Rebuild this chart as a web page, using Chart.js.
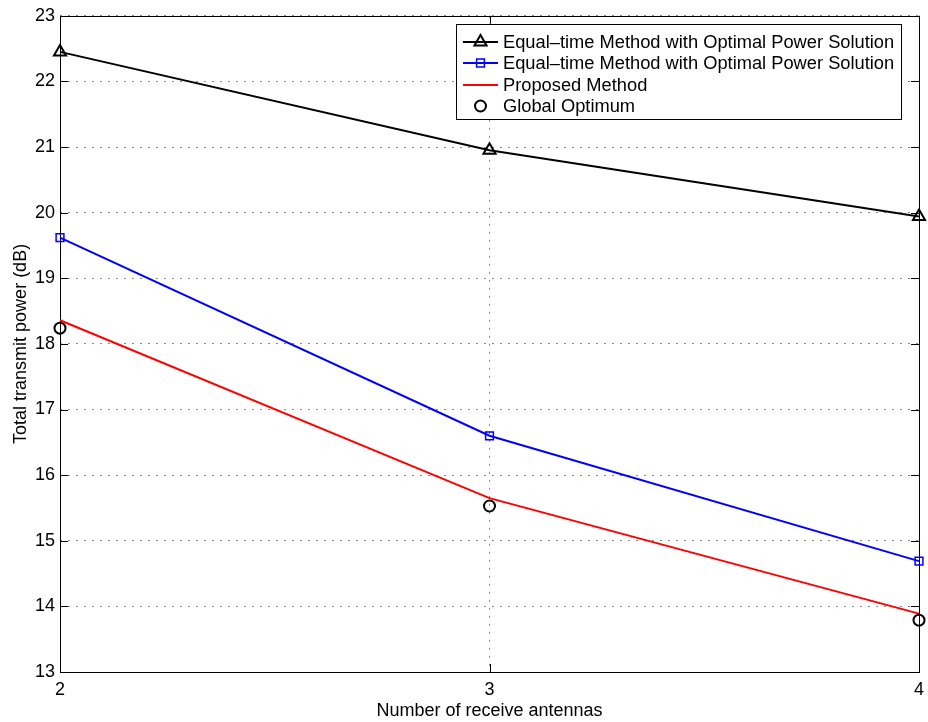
<!DOCTYPE html>
<html>
<head>
<meta charset="utf-8">
<script src="https://cdn.jsdelivr.net/npm/chart.js@4/dist/chart.umd.min.js"></script>
<style>
  html, body { margin: 0; padding: 0; background: #fff; }
</style>
</head>
<body>
<canvas id="chart" width="928" height="722"></canvas>
<script>
// --- data ---
const antennas = [2, 3, 4];
const equalTimeA = [22.45, 20.95, 19.94];
const equalTimeB = [19.62, 16.60, 14.69];
const proposed = [18.36, 15.65, 13.89];
const globalOpt = [18.24, 15.53, 13.79];
const yTicks = [13, 14, 15, 16, 17, 18, 19, 20, 21, 22, 23];
const legendNames = [
    'Equal\u2013time Method with Optimal Power Solution',
    'Equal\u2013time Method with Optimal Power Solution',
    'Proposed Method',
    'Global Optimum'
];

function pts(ys) {
    return antennas.map((x, i) => ({x: x, y: ys[i]}));
}

const FONT = "'Liberation Sans', Arial, Helvetica, sans-serif";

// matlab-ish box: border on all sides, inward ticks, boxed legend
const matlabBox = {
    id: 'matlabBox',
    beforeDatasetsDraw(chart) {
        const ctx = chart.ctx;
        const a = chart.chartArea;
        const xs = chart.scales.x, ys = chart.scales.y;
        const tl = 8;
        ctx.save();
        ctx.strokeStyle = '#000';
        ctx.lineWidth = 1;
        ctx.strokeRect(Math.round(a.left) + 0.5, Math.round(a.top) + 0.5,
            Math.round(a.right - a.left), Math.round(a.bottom - a.top));
        ctx.beginPath();
        yTicks.forEach(v => {
            const py = Math.round(ys.getPixelForValue(v)) + 0.5;
            ctx.moveTo(a.left, py); ctx.lineTo(a.left + tl, py);
            ctx.moveTo(a.right, py); ctx.lineTo(a.right - tl, py);
        });
        antennas.forEach(v => {
            const px = Math.round(xs.getPixelForValue(v)) + 0.5;
            ctx.moveTo(px, a.bottom); ctx.lineTo(px, a.bottom - tl);
            ctx.moveTo(px, a.top); ctx.lineTo(px, a.top + tl);
        });
        ctx.stroke();
        ctx.restore();
    },
    afterDraw(chart) {
        const ctx = chart.ctx;
        const box = {x: 456.5, y: 24.5, w: 445, h: 95};
        const rows = [42, 63, 85, 106];
        ctx.save();
        ctx.fillStyle = '#fff';
        ctx.fillRect(box.x, box.y, box.w, box.h);
        ctx.strokeStyle = '#000';
        ctx.lineWidth = 1;
        ctx.strokeRect(box.x, box.y, box.w, box.h);
        ctx.font = '18.3px ' + FONT;
        ctx.textBaseline = 'middle';
        chart.data.datasets.forEach((ds, i) => {
            const y = rows[i];
            if (ds.showLine !== false) {
                ctx.strokeStyle = ds.borderColor;
                ctx.lineWidth = 2;
                ctx.beginPath();
                ctx.moveTo(463, y); ctx.lineTo(498, y);
                ctx.stroke();
            }
            if (ds.pointRadius > 0) {
                ctx.strokeStyle = ds.pointBorderColor;
                ctx.fillStyle = 'rgba(0,0,0,0)';
                ctx.lineWidth = ds.pointBorderWidth;
                Chart.helpers.drawPoint(ctx, {
                    pointStyle: ds.pointStyle,
                    radius: ds.pointRadius,
                    borderWidth: ds.pointBorderWidth,
                    rotation: 0
                }, 480.5, y);
            }
            ctx.fillStyle = '#000';
            ctx.fillText(legendNames[i], 503, y + 1);
        });
        ctx.restore();
    }
};

const ctx = document.getElementById('chart').getContext('2d');
new Chart(ctx, {
    type: 'line',
    data: {
        datasets: [{
            label: legendNames[0],
            data: pts(equalTimeA),
            clip: false,
            borderColor: '#000000',
            borderWidth: 2,
            pointStyle: 'triangle',
            pointRadius: 7,
            pointBorderWidth: 2,
            pointBorderColor: '#000000',
            pointBackgroundColor: 'rgba(0,0,0,0)'
        }, {
            label: legendNames[1],
            data: pts(equalTimeB),
            clip: false,
            borderColor: '#0000ff',
            borderWidth: 2,
            pointStyle: 'rect',
            pointRadius: 5.5,
            pointBorderWidth: 1.5,
            pointBorderColor: '#0000ff',
            pointBackgroundColor: 'rgba(0,0,0,0)'
        }, {
            label: legendNames[2],
            data: pts(proposed),
            clip: false,
            borderColor: '#ff0000',
            borderWidth: 2,
            pointRadius: 0,
            pointBorderWidth: 0,
            pointBorderColor: '#ff0000'
        }, {
            label: legendNames[3],
            data: pts(globalOpt),
            clip: false,
            showLine: false,
            borderColor: '#000000',
            pointStyle: 'circle',
            pointRadius: 5.5,
            pointBorderWidth: 2,
            pointBorderColor: '#000000',
            pointBackgroundColor: 'rgba(0,0,0,0)'
        }]
    },
    options: {
        responsive: false,
        animation: false,
        layout: { padding: { top: 14, right: 0, left: 0, bottom: 0 } },
        plugins: {
            legend: { display: false },
            tooltip: { enabled: false }
        },
        scales: {
            x: {
                type: 'linear',
                min: 2,
                max: 4,
                afterFit(s) {
                    s.height = 50;
                    s.paddingLeft = 0;
                    s.paddingRight = 7;
                },
                afterBuildTicks(s) { s.ticks = antennas.map(v => ({value: v})); },
                ticks: {
                    color: '#000',
                    padding: 7,
                    font: { family: FONT, size: 18 }
                },
                grid: {
                    color: '#8a8a8a',
                    lineWidth: 1,
                    drawTicks: false,
                    tickLength: 0
                },
                border: { display: false, dash: [2, 6] },
                title: {
                    display: true,
                    text: 'Number of receive antennas',
                    color: '#000',
                    font: { family: FONT, size: 18 },
                    padding: { top: 13, bottom: 0 }
                }
            },
            y: {
                type: 'linear',
                min: 13,
                max: 23,
                afterFit(s) { s.width = 60; },
                afterBuildTicks(s) { s.ticks = yTicks.map(v => ({value: v})); },
                ticks: {
                    color: '#000',
                    padding: 5,
                    font: { family: FONT, size: 18 }
                },
                grid: {
                    color: '#8a8a8a',
                    lineWidth: 1,
                    drawTicks: false,
                    tickLength: 0
                },
                border: { display: false, dash: [2, 6] },
                title: {
                    display: true,
                    text: 'Total transmit power (dB)',
                    color: '#000',
                    font: { family: FONT, size: 18 },
                    padding: { top: 10, bottom: 0 }
                }
            }
        }
    },
    plugins: [matlabBox]
});
</script>
</body>
</html>
